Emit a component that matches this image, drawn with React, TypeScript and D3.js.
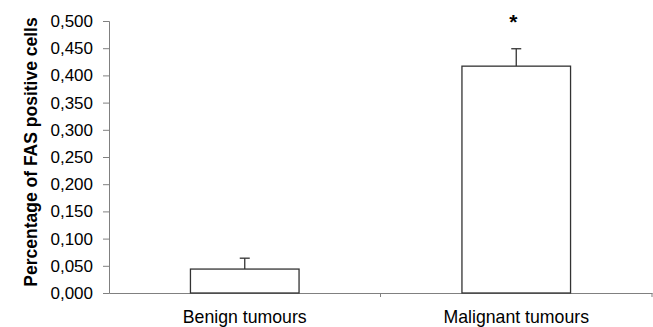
import React, { useEffect, useRef } from 'react';
import * as d3 from 'd3';

const categories = ['Benign tumours', 'Malignant tumours'];
const means = [0.044, 0.417];
const errors = [0.020, 0.032];
const significant = [false, true];
const yTicks = [0, 0.05, 0.1, 0.15, 0.2, 0.25, 0.3, 0.35, 0.4, 0.45, 0.5];

const W = 653, H = 327;
const margin = { top: 21, right: 1, bottom: 34, left: 109 };

export default function App() {
  const ref = useRef<SVGSVGElement>(null);

  useEffect(() => {
    const svg = d3.select(ref.current);
    svg.selectAll('*').remove();

    const width = W - margin.left - margin.right;
    const height = H - margin.top - margin.bottom;

    const x = d3.scaleBand().domain(categories).range([0, width]).padding(0);
    const y = d3.scaleLinear().domain([0, 0.5]).range([height, 0]);
    const barW = x.bandwidth() * 0.4;
    const fmt = (d: number) => d.toFixed(3).replace('.', ',');

    const g = svg.append('g')
      .attr('transform', 'translate(' + margin.left + ',' + margin.top + ')');

    // y axis
    const ya = g.append('g').call(
      d3.axisLeft(y).tickValues(yTicks).tickFormat((d) => fmt(d as number)).tickSize(6).tickPadding(10)
    );
    ya.select('.domain').attr('stroke', '#808080');
    ya.selectAll('.tick line').attr('stroke', '#808080');
    ya.selectAll('text')
      .attr('font-family', 'Liberation Sans, Arial, sans-serif')
      .attr('font-size', 17)
      .attr('fill', '#000');

    // x axis
    const xa = g.append('g')
      .attr('transform', 'translate(0,' + height + ')')
      .call(d3.axisBottom(x).tickSize(0).tickSizeOuter(0).tickPadding(17));
    xa.select('.domain').attr('stroke', '#808080');
    xa.selectAll('text')
      .attr('font-family', 'Liberation Sans, Arial, sans-serif')
      .attr('font-size', 17.7)
      .attr('fill', '#000');
    // category boundary ticks
    g.selectAll('.sep')
      .data(categories)
      .enter()
      .append('line')
      .attr('x1', (d) => (x(d) as number) + x.bandwidth())
      .attr('x2', (d) => (x(d) as number) + x.bandwidth())
      .attr('y1', height)
      .attr('y2', height + 4)
      .attr('stroke', '#808080');

    // bars
    const bars = g.selectAll('.bar')
      .data(categories)
      .enter()
      .append('g');

    const cx = (d: string) => (x(d) as number) + x.bandwidth() / 2;

    bars.append('line')
      .attr('x1', (d) => cx(d))
      .attr('x2', (d) => cx(d))
      .attr('y1', (d, i) => y(means[i]))
      .attr('y2', (d, i) => y(means[i] + errors[i]))
      .attr('stroke', '#333')
      .attr('stroke-width', 1.3);
    bars.append('line')
      .attr('x1', (d) => cx(d) - 5)
      .attr('x2', (d) => cx(d) + 5)
      .attr('y1', (d, i) => y(means[i] + errors[i]))
      .attr('y2', (d, i) => y(means[i] + errors[i]))
      .attr('stroke', '#333')
      .attr('stroke-width', 1.3);

    bars.append('rect')
      .attr('x', (d) => cx(d) - barW / 2)
      .attr('y', (d, i) => y(means[i]))
      .attr('width', barW)
      .attr('height', (d, i) => height - y(means[i]))
      .attr('fill', '#fff')
      .attr('stroke', '#333')
      .attr('stroke-width', 1.3);

    bars.filter((d, i) => significant[i])
      .append('text')
      .text('*')
      .attr('x', (d) => cx(d) - 3)
      .attr('y', (d) => y(means[categories.indexOf(d)] + errors[categories.indexOf(d)]) - 20)
      .attr('text-anchor', 'middle')
      .attr('font-family', 'Liberation Sans, Arial, sans-serif')
      .attr('font-weight', 'bold')
      .attr('font-size', 21)
      .attr('fill', '#000');

    // y label
    svg.append('text')
      .text('Percentage of FAS positive cells')
      .attr('transform', 'translate(37,' + 152 + ') rotate(-90)')
      .attr('text-anchor', 'middle')
      .attr('font-family', 'Liberation Sans, Arial, sans-serif')
      .attr('font-weight', 'bold')
      .attr('font-size', 17.5)
      .attr('fill', '#000');
  }, []);

  return (
    <svg ref={ref} width={W} height={H}
      style={{ position: 'absolute', left: 0, top: 0, background: '#fff' }} />
  );
}
